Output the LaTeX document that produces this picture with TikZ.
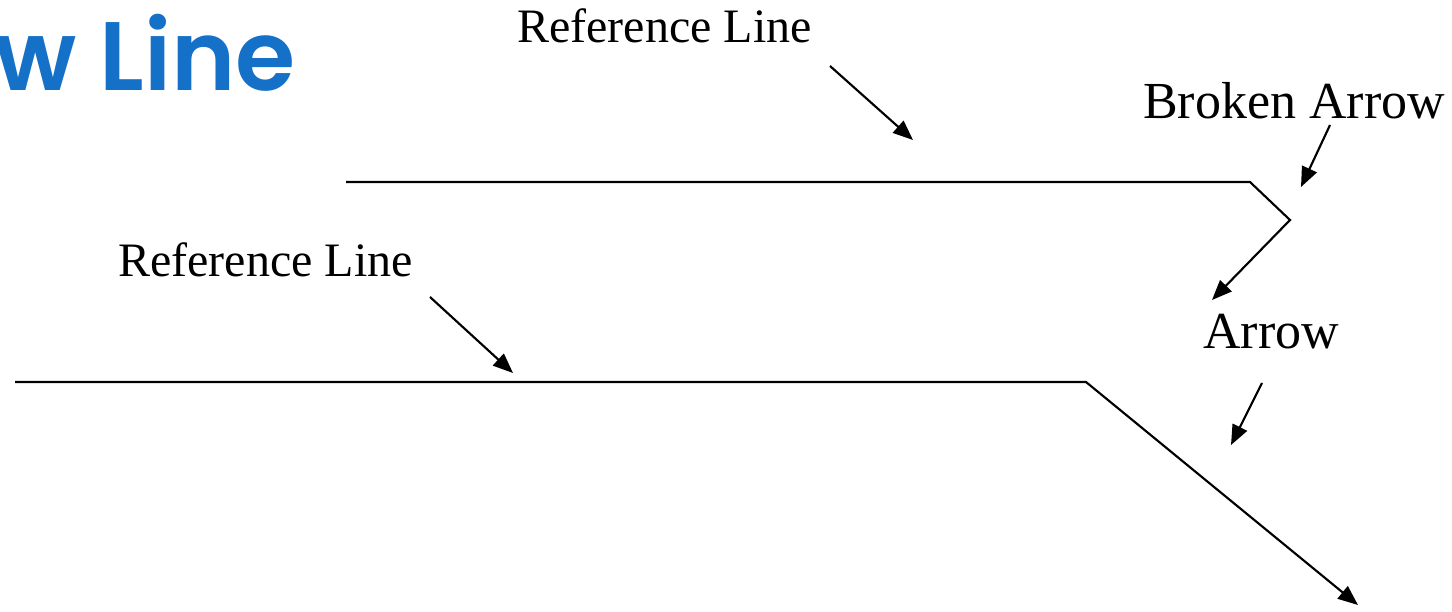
\documentclass[tikz,border=0pt]{standalone}
\usepackage{fontspec}
\setmainfont{Liberation Serif}
\newfontfamily\titlefont{Poppins SemiBold}
\usetikzlibrary{arrows.meta}
\definecolor{titleblue}{HTML}{1570C8}
\tikzset{
  lbl/.style={inner sep=0pt, anchor=base west, font=\fontsize{36}{40}\selectfont},
  biglbl/.style={lbl, font=\fontsize{39}{44}\selectfont},
  ln/.style={line width=1.6pt, line join=miter},
  arr/.style={ln, -{Triangle[length=15pt,width=12pt]}}
}
\begin{document}
\begin{tikzpicture}[x=0.75pt,y=-0.75pt]
\useasboundingbox (0,0) rectangle (1452,611);
\node[inner sep=0pt, anchor=base west, text=titleblue, font=\titlefont\fontsize{73}{80}\selectfont] (title) at (-6,90) {w Line};
\node[lbl] (ref1) at (517,42) {Reference Line};
\node[lbl] (ref2) at (118,276) {Reference Line};
\node[biglbl] (broken) at (1143,118) {Broken Arrow};
\node[biglbl] (arrow) at (1203,348) {Arrow};
% top broken line
\coordinate (t0) at (346,182);
\coordinate (t1) at (1250,182);
\coordinate (t2) at (1290,220);
\coordinate (t3) at (1212,300);
\draw[arr] (t0) -- (t1) -- (t2) -- (t3);
% bottom line
\coordinate (b0) at (15,382);
\coordinate (b1) at (1086,382);
\coordinate (b2) at (1358,605);
\draw[arr] (b0) -- (b1) -- (b2);
% pointer arrows
\coordinate (p1s) at (830,66);  \coordinate (p1e) at (913,140);
\coordinate (p2s) at (430,297); \coordinate (p2e) at (513,373);
\coordinate (p3s) at (1330,125); \coordinate (p3e) at (1301,187);
\coordinate (p4s) at (1262,383); \coordinate (p4e) at (1231,445);
\draw[arr] (p1s) -- (p1e);
\draw[arr] (p2s) -- (p2e);
\draw[arr] (p3s) -- (p3e);
\draw[arr] (p4s) -- (p4e);
\end{tikzpicture}
\end{document}
